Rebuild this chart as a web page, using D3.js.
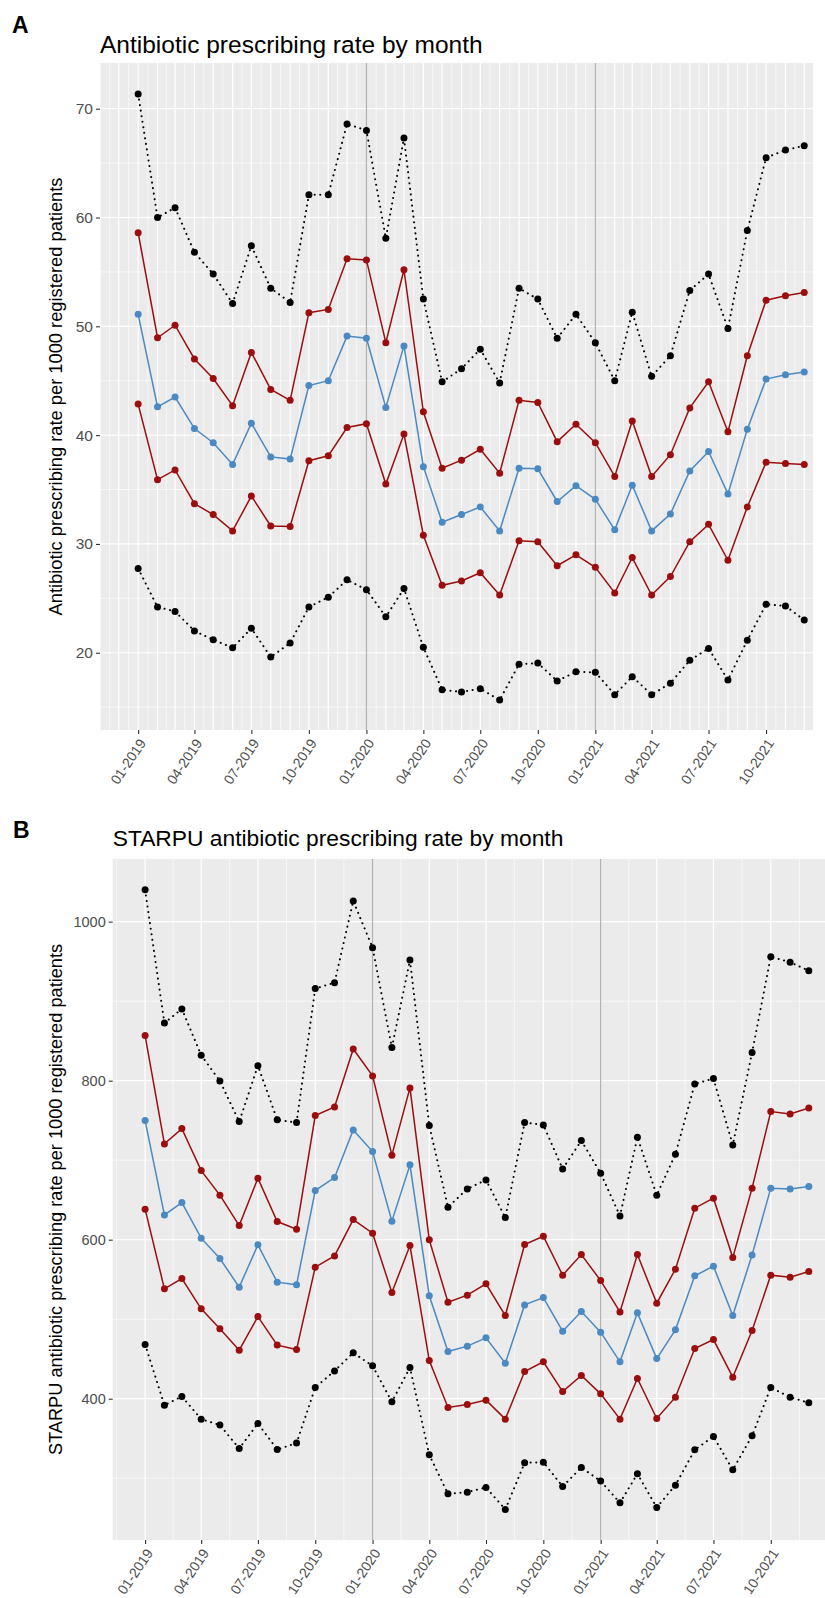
<!DOCTYPE html>
<html>
<head>
<meta charset="utf-8">
<script src="https://cdn.jsdelivr.net/npm/d3@7"></script>
<style>
  body { margin: 0; background: #fff; }
  text { font-family: "Liberation Sans", Arial, Helvetica, sans-serif; }
</style>
</head>
<body>
<svg id="chart" width="825" height="1598"></svg>
<script>
// months 01-2019 .. 12-2021
var months = d3.timeMonth.range(new Date(2019, 0, 1), new Date(2022, 0, 1));
var tickLabels = ["01-2019", "04-2019", "07-2019", "10-2019", "01-2020", "04-2020",
                  "07-2020", "10-2020", "01-2021", "04-2021", "07-2021", "10-2021"];
var markerDates = [new Date(2020, 0, 1), new Date(2021, 0, 1)];

// A: antibiotic prescribing rate per 1000 patients
var rateTop = [71.35, 60.0, 60.9, 56.8, 54.8, 52.1, 57.4, 53.5, 52.2, 62.1, 62.1, 68.6,
               68.0, 58.1, 67.3, 52.5, 44.9, 46.1, 47.9, 44.8, 53.5, 52.5, 48.9, 51.1,
               48.5, 45.0, 51.3, 45.4, 47.3, 53.3, 54.8, 49.8, 58.8, 65.5, 66.2, 66.6];
var rateUpper = [58.6, 48.95, 50.1, 47.0, 45.2, 42.7, 47.6, 44.2, 43.2, 51.25, 51.55, 56.2,
                 56.1, 48.5, 55.2, 42.15, 36.95, 37.7, 38.7, 36.5, 43.2, 43.0, 39.4, 41.0,
                 39.3, 36.2, 41.3, 36.2, 38.2, 42.5, 44.9, 40.3, 47.3, 52.4, 52.8, 53.1];
var rateMedian = [51.1, 42.6, 43.5, 40.6, 39.3, 37.3, 41.1, 38.0, 37.8, 44.55, 45.0, 49.1,
                  48.9, 42.55, 48.2, 37.1, 32.0, 32.7, 33.4, 31.2, 36.95, 36.9, 33.9, 35.35,
                  34.1, 31.3, 35.4, 31.2, 32.75, 36.7, 38.5, 34.6, 40.55, 45.15, 45.55, 45.8];
var rateLower = [42.85, 35.9, 36.8, 33.7, 32.7, 31.2, 34.4, 31.65, 31.6, 37.65, 38.1, 40.7,
                 41.05, 35.5, 40.1, 30.8, 26.2, 26.6, 27.35, 25.3, 30.3, 30.2, 28.0, 29.0,
                 27.85, 25.5, 28.75, 25.3, 27.0, 30.2, 31.8, 28.5, 33.4, 37.5, 37.4, 37.3];
var rateBottom = [27.75, 24.2, 23.8, 22.0, 21.2, 20.45, 22.25, 19.6, 20.9, 24.2, 25.1, 26.7,
                  25.8, 23.3, 25.9, 20.5, 16.6, 16.4, 16.7, 15.65, 18.95, 19.05, 17.4, 18.25,
                  18.2, 16.15, 17.8, 16.15, 17.2, 19.3, 20.4, 17.5, 21.15, 24.45, 24.3, 23.0];

// B: STARPU antibiotic prescribing rate per 1000 patients
var starpuTop = [1040, 872.6, 890.2, 832, 799.7, 748.5, 818.9, 750.7, 747.3, 915.8, 923.3, 1026,
                 967.3, 841.6, 951.8, 743.5, 640.9, 663.9, 675.2, 627.8, 747.3, 744.4, 689, 724.6,
                 683.6, 629.9, 728.9, 656, 707.5, 795.9, 802.6, 719.2, 835.3, 956, 948.9, 938.4];
var starpuUpper = [856.7, 720.5, 739.7, 686.9, 656, 617.8, 677.3, 622.8, 613.2, 756.1, 767, 839.9,
                   806, 706.3, 790.9, 599.8, 521.4, 530.2, 544.5, 504.6, 593.9, 604.4, 555.4, 581.3,
                   548.6, 509.2, 581.3, 520.2, 562.9, 639.6, 652.2, 577.5, 664.8, 761.1, 758.2, 765.7];
var starpuMedian = [749.8, 631.2, 646.7, 601.9, 576.3, 540.3, 593.5, 546.6, 543.2, 661.8, 678.1, 738.1,
                    710.8, 623.3, 694.1, 529.4, 459.3, 466.1, 476.6, 444.7, 518, 527.2, 484.9, 509.6,
                    483.7, 446.4, 508, 450.5, 486.6, 554.5, 566.7, 504.6, 580.9, 664.8, 663.9, 666.8];
var starpuLower = [638.4, 538.2, 551.1, 513, 487.9, 461.1, 503.3, 467.4, 461.8, 565.4, 579.6, 625.3,
                   608.2, 533.5, 592.6, 448, 388.9, 392.7, 398.2, 374.3, 434.2, 446.4, 409, 429.2,
                   406.1, 374.3, 425.4, 375.1, 401.9, 463.1, 474.4, 427.1, 485.7, 555.4, 552.9, 559.9];
var starpuBottom = [468.1, 391.9, 402.8, 374.3, 366.8, 337.4, 368.8, 336.1, 344.2, 414.1, 435, 457.7,
                    441.3, 396.1, 439.2, 329.4, 280.4, 282.5, 288.4, 260.7, 319.4, 320.2, 289.6, 313.5,
                    296.4, 269.1, 305.6, 263.2, 291.3, 335.7, 352.5, 310.6, 353.3, 414.1, 401.9, 394.8];

var RED = "#9b0e0e", BLUE = "#4a89c2", BLACK = "#000000";

var svg = d3.select("#chart");

function drawPanel(p) {
    var g = svg.append("g");
    var first = months[0], last = months[months.length - 1];

    var x = d3.scaleTime()
        .domain([d3.timeDay.offset(first, -p.padLeft), d3.timeDay.offset(last, p.padRight)])
        .range([p.left, p.right]);
    var y = d3.scaleLinear().domain(p.yDomain).range([p.bottom, p.top]);

    // tag + title
    g.append("text").attr("x", p.tagX).attr("y", p.tagY)
        .attr("font-size", 23).attr("font-weight", "bold").attr("fill", "#000").text(p.tag);
    g.append("text").attr("x", p.left).attr("y", p.titleY)
        .attr("font-size", p.titleSize).attr("fill", "#000").text(p.title);

    // panel background
    g.append("rect").attr("x", p.left).attr("y", p.top)
        .attr("width", p.right - p.left).attr("height", p.bottom - p.top)
        .attr("fill", "#ebebeb");

    // vertical grid (major at breaks, minor halfway)
    var every = d3.timeMonth.every(p.monthStep);
    var xd = x.domain();
    var breaks = every.range(d3.timeMonth.offset(xd[0], -p.monthStep), d3.timeMonth.offset(xd[1], p.monthStep));
    var minorX = [];
    for (var i = 0; i < breaks.length - 1; i++)
        minorX.push(new Date((+breaks[i] + +breaks[i + 1]) / 2));
    var inX = function(d) { return d >= xd[0] && d <= xd[1]; };

    g.selectAll(".vminor").data(minorX.filter(inX)).enter().append("line")
        .attr("x1", d => x(d)).attr("x2", d => x(d))
        .attr("y1", p.top).attr("y2", p.bottom)
        .attr("stroke", "#fff").attr("stroke-width", 0.6);
    g.selectAll(".vmajor").data(breaks.filter(inX)).enter().append("line")
        .attr("x1", d => x(d)).attr("x2", d => x(d))
        .attr("y1", p.top).attr("y2", p.bottom)
        .attr("stroke", "#fff").attr("stroke-width", 1.2);

    // horizontal grid
    g.selectAll(".hminor").data(p.yMinor).enter().append("line")
        .attr("x1", p.left).attr("x2", p.right)
        .attr("y1", d => y(d)).attr("y2", d => y(d))
        .attr("stroke", "#fff").attr("stroke-width", 0.6);
    g.selectAll(".hmajor").data(p.yTicks).enter().append("line")
        .attr("x1", p.left).attr("x2", p.right)
        .attr("y1", d => y(d)).attr("y2", d => y(d))
        .attr("stroke", "#fff").attr("stroke-width", 1.2);

    // year markers
    g.selectAll(".marker").data(markerDates).enter().append("line")
        .attr("x1", d => x(d)).attr("x2", d => x(d))
        .attr("y1", p.top).attr("y2", p.bottom)
        .attr("stroke", "#b0b0b0").attr("stroke-width", 1.2);

    // y axis
    var yAxis = g.append("g").attr("transform", "translate(" + p.left + ",0)")
        .call(d3.axisLeft(y).tickValues(p.yTicks).tickFormat(d3.format("d"))
            .tickSize(4).tickPadding(3));
    yAxis.select(".domain").remove();
    yAxis.selectAll(".tick line").attr("stroke", "#333").attr("stroke-width", 1.1);
    yAxis.selectAll(".tick text").attr("fill", "#4d4d4d").attr("font-size", p.yTickSize)
        .attr("font-family", null);

    // x axis
    var tickDates = tickLabels.map(function(s) {
        return d3.timeParse("%m-%Y")(s);
    });
    var xAxis = g.append("g").attr("transform", "translate(0," + p.bottom + ")")
        .call(d3.axisBottom(x).tickValues(tickDates).tickSize(4)
            .tickFormat(d3.timeFormat("%m-%Y")));
    xAxis.select(".domain").remove();
    xAxis.selectAll(".tick line").attr("stroke", "#333").attr("stroke-width", 1.1);
    xAxis.selectAll(".tick text")
        .attr("fill", "#4d4d4d").attr("font-size", p.xTickSize).attr("font-family", null)
        .attr("text-anchor", "end").attr("y", 0).attr("dy", 0)
        .attr("transform", "translate(8,13) rotate(-56)");

    // y title
    g.append("text")
        .attr("transform", "translate(" + p.yTitleX + "," + ((p.top + p.bottom) / 2) + ") rotate(-90)")
        .attr("text-anchor", "middle").attr("font-size", p.yTitleSize).attr("fill", "#000")
        .text(p.yTitle);

    // series
    var line = d3.line().x((d, i) => x(months[i])).y(d => y(d));
    p.series.forEach(function(s) {
        g.append("path").datum(s.values)
            .attr("d", line).attr("fill", "none")
            .attr("stroke", s.color).attr("stroke-width", s.dotted ? 2 : 1.5)
            .attr("stroke-linecap", s.dotted ? "round" : "butt")
            .attr("stroke-dasharray", s.dotted ? "0.1 5.5" : null);
        g.selectAll(null).data(s.values).enter().append("circle")
            .attr("cx", (d, i) => x(months[i])).attr("cy", d => y(d))
            .attr("r", 3.5).attr("fill", s.color);
    });
}

drawPanel({
    tag: "A", tagX: 12, tagY: 33,
    title: "Antibiotic prescribing rate by month", titleY: 53, titleSize: 24.5,
    yTitle: "Antibiotic prescribing rate per 1000 registered patients", yTitleX: 62, yTitleSize: 18.3,
    left: 100, right: 813, top: 63, bottom: 730,
    padLeft: 61, padRight: 14, monthStep: 1,
    yDomain: [12.9, 74.2], yTicks: [20, 30, 40, 50, 60, 70], yMinor: [15, 25, 35, 45, 55, 65],
    yTickSize: 15.5, xTickSize: 14,
    series: [
        { values: rateTop, color: BLACK, dotted: true },
        { values: rateBottom, color: BLACK, dotted: true },
        { values: rateUpper, color: RED },
        { values: rateLower, color: RED },
        { values: rateMedian, color: BLUE }
    ]
});

drawPanel({
    tag: "B", tagX: 13, tagY: 838,
    title: "STARPU antibiotic prescribing rate by month", titleY: 846, titleSize: 22.8,
    yTitle: "STARPU antibiotic prescribing rate per 1000 registered patients", yTitleX: 62, yTitleSize: 18.2,
    left: 112.7, right: 825, top: 859, bottom: 1540,
    padLeft: 52, padRight: 26, monthStep: 3,
    yDomain: [222.3, 1078.8], yTicks: [400, 600, 800, 1000], yMinor: [300, 500, 700, 900],
    yTickSize: 14.5, xTickSize: 14,
    series: [
        { values: starpuTop, color: BLACK, dotted: true },
        { values: starpuBottom, color: BLACK, dotted: true },
        { values: starpuUpper, color: RED },
        { values: starpuLower, color: RED },
        { values: starpuMedian, color: BLUE }
    ]
});
</script>
</body>
</html>
